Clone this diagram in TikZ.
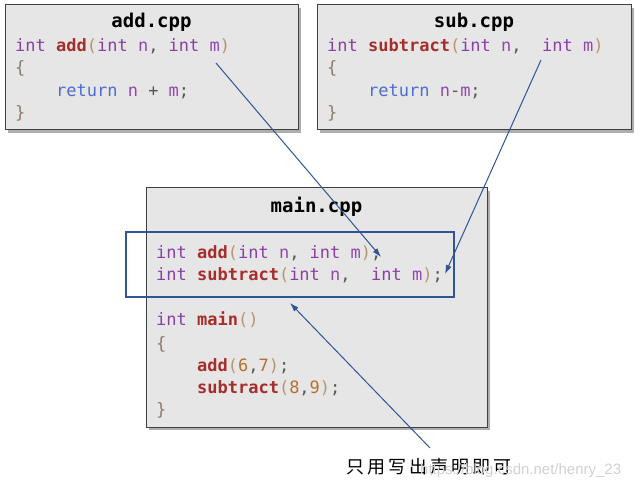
\documentclass[tikz,border=0pt]{standalone}
\usepackage{fontspec}
\setmonofont{DejaVu Sans Mono}
\setsansfont{Liberation Sans}
\newfontfamily\cjk{Noto Sans CJK SC}
\usetikzlibrary{shadows,arrows.meta}
\definecolor{kwc}{HTML}{8B3FA6}
\definecolor{vac}{HTML}{9148AE}
\definecolor{fnc}{HTML}{A52E2A}
\definecolor{pac}{HTML}{B9956E}
\definecolor{brc}{HTML}{8C7B6A}
\definecolor{nuc}{HTML}{B8702E}
\definecolor{rec}{HTML}{4E6CD2}
\definecolor{puc}{HTML}{555555}
\definecolor{arc}{HTML}{2F5597}
\definecolor{boxfill}{HTML}{E6E6E6}
\definecolor{boxline}{HTML}{404040}
\newcommand\cKw[1]{\textcolor{kwc}{#1}}
\newcommand\cVa[1]{\textcolor{vac}{#1}}
\newcommand\cFn[1]{\textcolor{fnc}{\bfseries #1}}
\newcommand\cPa[1]{\textcolor{pac}{#1}}
\newcommand\cBr[1]{\textcolor{brc}{#1}}
\newcommand\cNu[1]{\textcolor{nuc}{#1}}
\newcommand\cRe[1]{\textcolor{rec}{#1}}
\newcommand\cPu[1]{\textcolor{puc}{#1}}
\tikzset{
  filebox/.style={draw=boxline, line width=1pt, fill=boxfill, inner sep=0pt,
    drop shadow={shadow xshift=3pt, shadow yshift=-3pt, fill=black!45, opacity=0.7}},
  code/.style={anchor=base west, inner sep=0pt, font=\ttfamily\fontsize{17}{20}\selectfont},
  title/.style={anchor=base, inner sep=0pt, font=\ttfamily\bfseries\fontsize{19}{22}\selectfont},
  arr/.style={draw=arc, line width=1pt, -{Latex[length=9pt,width=6pt]}},
  declbox/.style={draw=arc, line width=2pt, inner sep=0pt}
}
\begin{document}
\begin{tikzpicture}[x=1pt,y=-1pt]
\useasboundingbox (0,0) rectangle (641,492);
% file boxes
\node[filebox, minimum width=293pt, minimum height=125pt] (addbox) at (151.5,67.5) {};
\node[filebox, minimum width=314pt, minimum height=125pt] (subbox) at (474,67.5) {};
\node[filebox, minimum width=341pt, minimum height=239pt] (mainbox) at (316.5,307.5) {};
% add.cpp
\node[title] (addt) at (151.5,28) {add.cpp};
\node[code] (a1) at (15,52) {\cKw{int}~\cFn{add}\cPa{(}\cKw{int}~\cVa{n}\cPu{,}~\cKw{int}~\cVa{m}\cPa{)}};
\node[code] (a2) at (15,74) {\cBr{\{}};
\node[code] (a3) at (15,97) {~~~~\cRe{return}~\cVa{n}~\cPu{+}~\cVa{m}\cPu{;}};
\node[code] (a4) at (15,119) {\cBr{\}}};
% sub.cpp
\node[title] (subt) at (474,28) {sub.cpp};
\node[code] (b1) at (327,52) {\cKw{int}~\cFn{subtract}\cPa{(}\cKw{int}~\cVa{n}\cPu{,}~~\cKw{int}~\cVa{m}\cPa{)}};
\node[code] (b2) at (327,74) {\cBr{\{}};
\node[code] (b3) at (327,97) {~~~~\cRe{return}~\cVa{n}\cPu{-}\cVa{m}\cPu{;}};
\node[code] (b4) at (327,119) {\cBr{\}}};
% main.cpp
\node[title] (maint) at (316.5,213) {main.cpp};
\node[code] (m1) at (156,259) {\cKw{int}~\cFn{add}\cPa{(}\cKw{int}~\cVa{n}\cPu{,}~\cKw{int}~\cVa{m}\cPa{)}\cPu{;}};
\node[code] (m2) at (156,281) {\cKw{int}~\cFn{subtract}\cPa{(}\cKw{int}~\cVa{n}\cPu{,}~~\cKw{int}~\cVa{m}\cPa{)}\cPu{;}};
\node[code] (m3) at (156,326) {\cKw{int}~\cFn{main}\cPa{()}};
\node[code] (m4) at (156,349) {\cBr{\{}};
\node[code] (m5) at (156,371) {~~~~\cFn{add}\cPa{(}\cNu{6}\cPu{,}\cNu{7}\cPa{)}\cPu{;}};
\node[code] (m6) at (156,393) {~~~~\cFn{subtract}\cPa{(}\cNu{8}\cPu{,}\cNu{9}\cPa{)}\cPu{;}};
\node[code] (m7) at (156,415) {\cBr{\}}};
% declaration frame
\node[declbox, minimum width=328pt, minimum height=65pt] (decl) at (290,264.5) {};
% label and watermark
\node[inner sep=0pt, font=\cjk\fontsize{18}{20}\selectfont] (note) at (429,467) {只\,用\,写\,出\,声\,明\,即\,可};
\node[inner sep=0pt, anchor=west, font=\sffamily\fontsize{15}{17}\selectfont, text=black!18] (wm) at (420,471) {https://blog.csdn.net/henry\_23};
% arrows
\coordinate (s1) at (216,63);
\coordinate (e1) at (381,257);
\coordinate (s2) at (541,60);
\coordinate (e2) at (445,274);
\coordinate (s3) at (430,448);
\coordinate (e3) at (290,303);
\draw[arr] (s1) -- (e1);
\draw[arr] (s2) -- (e2);
\draw[arr] (s3) -- (e3);
\end{tikzpicture}
\end{document}
